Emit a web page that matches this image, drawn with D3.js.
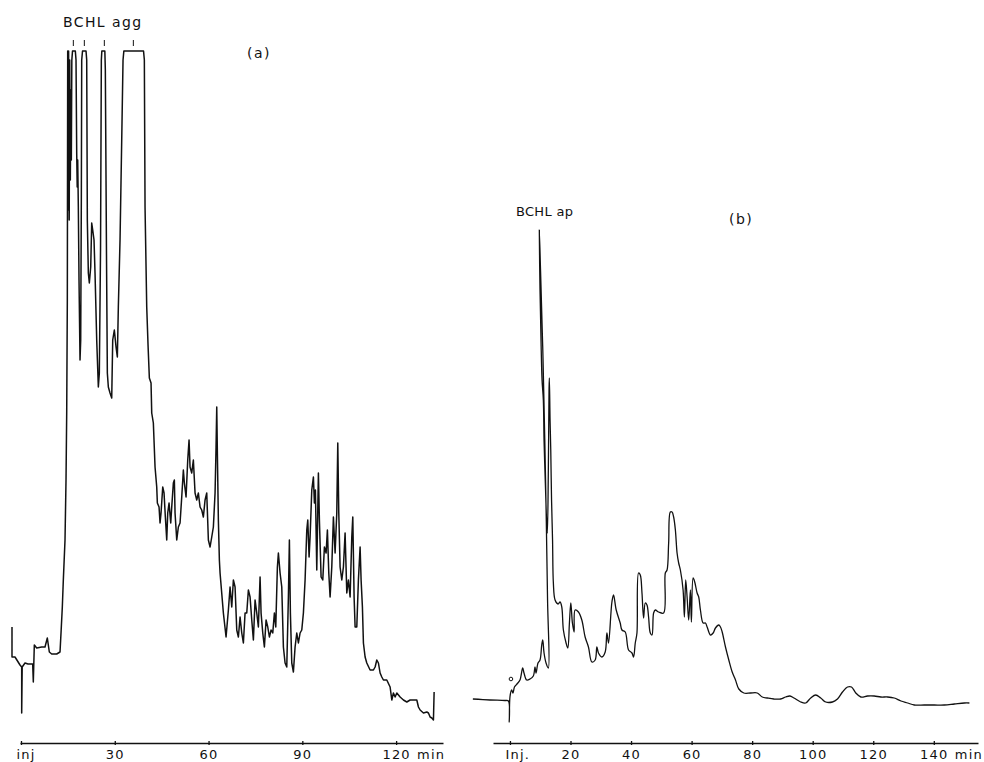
<!DOCTYPE html>
<html>
<head>
<meta charset="utf-8">
<script src="https://cdn.jsdelivr.net/npm/d3@7"></script>
<style>
  html, body { margin: 0; padding: 0; background: #fff; }
  svg { display: block; }
  text { font-family: "DejaVu Sans", "Liberation Sans", sans-serif; fill: #111; }
</style>
</head>
<body>
<svg id="chart" width="984" height="762"></svg>
<script>
// Chromatogram (a): aggregated BChl fraction. [time (min), detector signal (rel. units)]
const traceA = [
  [-2.88,11.6],[-2.88,8.6],[-1.92,8.6],[-0.32,7.8],[0.22,7.6],[0.22,3.0],[0.38,7.6],[1.28,8.0],[2.24,7.9],[3.74,7.9],
  [3.94,6.1],[4.26,9.8],[5.02,9.5],[6.62,9.6],[7.68,9.6],[8.42,10.5],[9.06,9.1],[9.82,8.9],[11.42,8.9],[12.48,9.1],
  [12.8,11.0],[13.22,13.6],[13.54,16.3],[14.08,20.3],[14.4,26.3],[14.62,33.0],[14.82,44.3],[14.94,69.2],
  [15.1,53.3],[15.23,69.2],[15.42,52.3],[15.58,68.3],[15.78,56.3],[15.94,65.3],[16.1,58.3],
  [16.26,68.3],[16.48,69.2],[17.38,69.2],[17.6,68.3],[17.82,59.0],[17.98,55.6],[18.14,58.3],[18.34,53.6],[18.56,46.3],[18.88,38.3],[19.1,40.3],[19.3,54.3],
  [19.42,68.3],[19.68,69.2],[20.8,69.2],[21.02,68.3],[21.22,52.3],[21.54,47.0],[21.86,46.0],[22.3,47.6],[22.62,52.0],[22.94,51.3],[23.36,50.3],[23.68,47.0],[24.22,40.3],[24.74,35.6],[25.06,37.0],[25.44,49.3],
  [25.7,68.3],[25.86,69.2],[26.82,69.2],[26.98,67.3],[27.14,59.3],[27.36,48.3],[27.62,37.0],[27.94,35.6],[28.48,35.0],[29.02,34.5],[29.34,40.3],[29.86,41.3],[30.4,39.6],[30.82,38.6],[31.14,43.6],[31.68,50.3],[32.22,60.3],[32.64,68.3],[32.9,69.2],
  [39.2,69.2],[39.46,68.3],[39.68,53.6],[40.22,43.6],[40.64,39.8],[41.06,36.5],[41.6,36.0],[41.82,33.0],[42.34,32.0],[42.88,27.6],
  [43.42,25.6],[43.62,24.0],[44.16,23.6],[44.48,22.0],[44.8,23.0],[45.34,25.6],[45.76,25.0],[46.18,22.6],[46.62,20.3],[46.94,23.0],
  [47.36,24.0],[47.9,22.0],[48.22,23.6],[48.74,26.0],[49.06,26.3],[49.28,23.0],[49.82,20.3],[50.34,21.6],[50.88,22.0],[51.42,24.6],
  [51.94,27.3],[52.26,26.0],[52.8,24.6],[53.34,28.3],[53.76,30.3],[54.08,27.6],[54.62,27.0],[55.14,28.3],[55.68,25.0],[56.22,24.3],
  [56.74,25.0],[57.28,23.6],[57.82,23.3],[58.34,22.6],[58.88,24.3],[59.42,25.0],[59.94,20.3],[60.48,19.6],[61.02,20.6],[61.54,21.6],
  [62.08,25.0],[62.4,29.6],[62.62,33.6],[62.82,29.0],[63.14,22.3],[63.46,18.3],[63.68,17.0],[64.74,13.0],[65.6,10.6],[66.34,13.3],
  [66.88,15.6],[67.42,13.6],[67.94,16.3],[68.48,15.6],[69.02,11.3],[69.54,10.6],[70.08,12.6],[70.62,11.0],[71.14,10.0],[71.68,13.0],
  [72.22,13.0],[72.74,15.3],[73.28,14.6],[73.82,12.3],[74.34,10.3],[74.88,14.3],[75.42,13.0],[75.94,11.6],[76.48,16.6],[76.8,13.0],
  [77.34,11.0],[77.86,9.6],[78.4,12.3],[78.94,11.6],[79.46,10.6],[80.0,11.3],[80.54,11.0],[81.06,13.0],[81.5,11.6],[82.02,17.6],
  [82.34,19.0],[82.88,17.0],[83.42,15.6],[83.94,9.6],[84.48,8.0],[85.02,7.6],[85.54,14.6],[85.86,20.3],[86.18,13.0],[86.62,8.0],
  [87.14,7.1],[87.68,9.6],[88.22,11.0],[88.74,10.0],[89.28,11.0],[89.82,11.3],[90.34,13.0],[90.88,16.3],[91.42,21.3],[91.74,22.3],
  [92.16,18.6],[92.48,20.6],[93.02,25.3],[93.54,26.6],[93.86,24.0],[94.18,25.3],[94.62,17.3],[95.14,27.0],[95.46,22.3],[96.0,16.6],
  [96.54,16.3],[97.06,19.6],[97.6,19.0],[98.02,21.3],[98.46,17.0],[98.88,14.6],[99.42,17.6],[99.94,22.6],[100.48,19.0],[101.02,23.0],
  [101.34,30.0],[101.66,23.0],[102.08,17.6],[102.62,16.3],[103.14,17.6],[103.68,21.0],[104.22,15.0],[104.74,16.3],[105.28,14.6],[105.82,20.6],
  [106.14,22.6],[106.56,14.6],[106.88,11.6],[107.42,11.6],[107.94,16.3],[108.48,19.6],[108.8,16.3],[109.22,13.6],[109.54,10.0],[110.08,8.6],
  [110.62,8.0],[111.68,7.3],[112.74,7.3],[113.28,7.6],[113.82,8.3],[114.34,8.0],[114.88,7.0],[115.42,6.6],[115.94,6.3],[117.02,6.3],
  [118.08,5.6],[118.62,4.3],[119.14,5.0],[119.68,4.6],[120.22,5.0],[121.28,4.6],[122.34,4.3],[123.42,4.1],[124.48,4.3],[125.54,4.3],
  [126.62,4.3],[127.14,3.6],[127.68,3.3],[128.74,3.0],[129.82,3.1],[130.34,3.0],[130.88,2.6],[131.42,2.5],[131.94,2.3],[132.16,5.1]
];

// Chromatogram (b): BChl a.p. fraction. [time (min), detector signal (rel. units)]
const traceB = [
  [-12.25,4.4],[-6.62,4.3],[-1.66,4.25],[-0.5,4.2],[-0.23,2.1],[0,4.6],[0.56,5.3],[0.99,5.0],[1.49,5.6],[2.32,5.9],
  [3.31,6.3],[4.21,7.5],[4.64,7.0],[5.53,6.3],[6.62,6.4],[7.72,6.7],[8.28,7.6],[8.61,7.0],[9.27,8.0],[9.93,8.3],
  [10.5,9.8],[10.83,10.3],[11.26,9.0],[11.92,8.0],[12.68,7.5],[12.42,14.3],[11.76,26.3],[10.93,38.3],[10.1,47.3],[9.7,51.3],
  [9.93,45.3],[10.26,40.3],[10.6,36.3],[11.03,34.3],[11.26,30.3],[11.76,25.3],[12.09,22.3],[12.35,21.0],[12.68,27.3],[12.91,35.3],
  [13.01,36.5],[13.25,32.3],[13.48,29.3],[13.74,24.3],[14.07,20.3],[14.34,16.0],[14.9,14.3],[15.89,13.9],[16.56,14.1],[17.12,13.6],
  [17.65,11.3],[18.54,10.0],[19.11,9.5],[19.64,12.0],[20.1,14.0],[20.63,12.0],[21.19,11.1],[21.52,13.3],[22.62,13.1],[23.74,12.3],
  [24.83,10.6],[25.93,9.6],[27.05,8.1],[28.15,8.3],[28.71,9.6],[29.24,9.0],[30.36,8.6],[31.46,9.1],[32.02,11.0],[32.55,10.0],
  [33.68,14.1],[34.21,14.8],[35.1,13.3],[36.42,12.0],[36.99,11.3],[38.08,11.1],[39.17,9.3],[40.3,9.0],[40.83,8.6],[41.39,10.0],
  [41.95,11.0],[42.48,17.0],[43.05,16.8],[43.61,15.0],[44.14,12.5],[44.7,14.0],[45.26,13.8],[45.79,12.6],[46.36,11.0],[46.92,10.8],
  [47.45,13.0],[48.01,13.3],[49.11,13.1],[50.76,13.0],[51.32,17.0],[51.89,17.3],[52.42,20.0],[52.98,23.1],[53.54,23.1],[54.07,22.6],
  [54.64,21.3],[55.2,19.0],[55.73,18.0],[56.29,17.3],[57.19,15.3],[57.62,12.6],[58.05,16.3],[58.51,14.6],[59.04,12.3],[59.6,15.3],
  [59.93,12.1],[60.5,16.5],[61.03,16.1],[61.82,15.0],[62.35,14.6],[62.91,13.3],[63.81,12.0],[64.57,12.0],[65.13,11.6],[66.23,10.8],
  [67.12,11.0],[67.88,11.5],[68.97,11.8],[69.54,11.6],[70.1,11.1],[71.19,9.6],[72.29,8.3],[73.41,7.1],[74.5,6.3],[75.6,5.4],
  [77.25,5.0],[79.47,5.0],[81.69,5.0],[83.35,4.6],[85.0,4.5],[87.19,4.4],[89.41,4.4],[91.06,4.6],[92.48,4.7],[93.81,4.5],
  [96.03,4.1],[97.68,4.0],[99.34,4.5],[101.0,4.8],[102.65,4.5],[104.31,4.1],[106.52,4.1],[108.18,4.4],[109.84,5.1],[111.49,5.6],
  [112.82,5.6],[114.24,5.0],[115.9,4.6],[118.11,4.7],[120.3,4.7],[122.52,4.6],[124.74,4.6],[126.92,4.5],[129.14,4.2],[131.36,4.0],
  [133.54,3.8],[136.86,3.8],[140.17,3.8],[143.48,3.8],[146.79,3.9],[150.1,4.0],[151.76,4.0]
];

// Axis ticks and their labels
const ticksA = [0, 30, 60, 90, 120];
const tickLabelsA = ["inj", "30", "60", "90", "120"];
const ticksB = [0, 20, 40, 60, 80, 100, 120, 140];
const tickLabelsB = ["Inj.", "20", "40", "60", "80", "100", "120", "140"];

// Retention times of the off-scale aggregate peaks (marked with short ticks)
const aggPeakTimes = [16.74, 20.26, 26.66, 35.94];
// Injection marker on trace (b)
const injMarkB = [[0.33, 6.4]];
// Recorder full-scale deflection
const fullScale = 69.2;

const svg = d3.select("#chart");

const y = d3.scaleLinear().domain([0, 70]).range([743, 43]);
const xA = d3.scaleLinear().domain([-0.32, 135]).range([20, 443]);
const xB = d3.scaleLinear().domain([-5.6, 154.6]).range([493, 978]);

function drawAxis(x, ticks, labels, unitLabel) {
  const axis = d3.axisBottom(x)
    .tickValues(ticks)
    .tickFormat((d, i) => labels[i])
    .tickSizeInner(4)
    .tickSizeOuter(0);
  const g = svg.append("g").attr("transform", "translate(0,743)").call(axis);
  g.select(".domain").attr("stroke", "#111").attr("stroke-width", 1.6);
  g.selectAll(".tick line").attr("stroke", "#111").attr("stroke-width", 1.3).attr("y1", -2).attr("y2", 2);
  g.selectAll(".tick text")
    .attr("y", 7).attr("dy", "0.71em")
    .attr("font-size", 13).attr("letter-spacing", 1.2)
    .attr("font-family", '"DejaVu Sans", sans-serif').attr("fill", "#111");
  // the injection label starts just left of its tick instead of centring on it
  g.selectAll(".tick text").filter((d, i) => i === 0)
    .attr("text-anchor", "start").attr("x", -5);
  const last = ticks[ticks.length - 1];
  svg.append("text")
    .attr("x", x(last) + 21).attr("y", 750).attr("dy", "0.71em")
    .attr("font-size", 13).attr("letter-spacing", 1.2)
    .text(unitLabel);
}

drawAxis(xA, ticksA, tickLabelsA, "min");
drawAxis(xB, ticksB, tickLabelsB, "min");

const lineA = d3.line().x(d => xA(d[0])).y(d => y(Math.min(d[1], fullScale)));
const lineB = d3.line().x(d => xB(d[0])).y(d => y(d[1])).curve(d3.curveCatmullRom.alpha(0.5));

svg.append("path").datum(traceA)
  .attr("d", lineA).attr("fill", "none").attr("stroke", "#111")
  .attr("stroke-width", 1.5).attr("stroke-linejoin", "round");

svg.append("path").datum(traceB)
  .attr("d", lineB).attr("fill", "none").attr("stroke", "#111")
  .attr("stroke-width", 1.3).attr("stroke-linejoin", "round");

svg.selectAll("circle.inj").data(injMarkB).join("circle")
  .attr("class", "inj")
  .attr("cx", d => xB(d[0])).attr("cy", d => y(d[1]))
  .attr("r", 1.8).attr("fill", "none").attr("stroke", "#111").attr("stroke-width", 1);

// Short marks above the clipped aggregate peaks
svg.selectAll("line.agg").data(aggPeakTimes).join("line")
  .attr("class", "agg")
  .attr("x1", d => xA(d)).attr("x2", d => xA(d))
  .attr("y1", y(fullScale) - 11).attr("y2", y(fullScale) - 5)
  .attr("stroke", "#111").attr("stroke-width", 1);

// Annotations
svg.append("text").attr("x", 63).attr("y", 27)
  .attr("font-size", 14).attr("letter-spacing", 1.4).text("BCHL agg");
svg.append("text").attr("x", 247).attr("y", 58)
  .attr("font-size", 14).attr("letter-spacing", 1.5).text("(a)");
svg.append("text").attr("x", 516).attr("y", 216)
  .attr("font-size", 13).attr("letter-spacing", 0.3).text("BCHL ap");
svg.append("text").attr("x", 729).attr("y", 224)
  .attr("font-size", 14).attr("letter-spacing", 1.5).text("(b)");
</script>
</body>
</html>
